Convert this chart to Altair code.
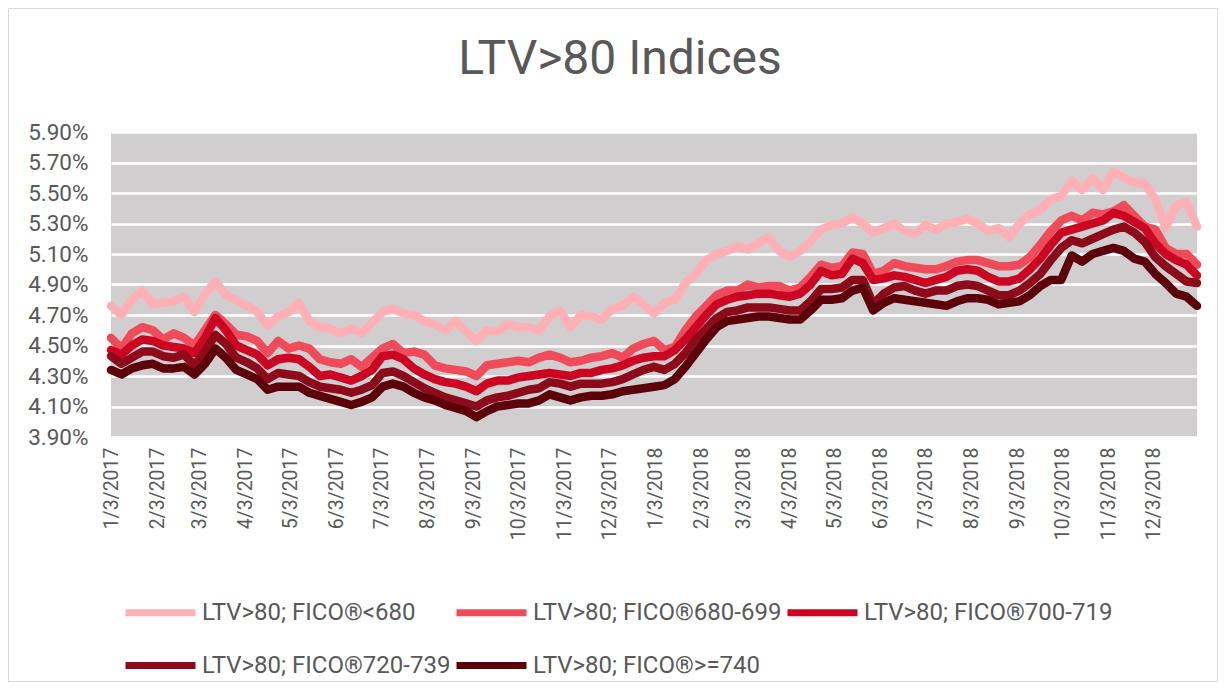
import altair as alt
import pandas as pd

# ---------------- data (weekly samples) ----------------
series_names = [
    "LTV>80; FICO®<680",
    "LTV>80; FICO®680-699",
    "LTV>80; FICO®700-719",
    "LTV>80; FICO®720-739",
    "LTV>80; FICO®>=740",
]
series_colors = ["#FFB0B7", "#F04B5A", "#CC0622", "#8C0A1A", "#5C000A"]

dates = pd.date_range("2017-01-03", periods=105, freq="7D").strftime("%Y-%m-%d").tolist()

fico_lt680 = [4.76, 4.70, 4.80, 4.86, 4.77, 4.78, 4.79, 4.82, 4.72, 4.84,
              4.92, 4.83, 4.80, 4.76, 4.72, 4.63, 4.69, 4.72, 4.78, 4.66,
              4.62, 4.61, 4.58, 4.61, 4.58, 4.65, 4.72, 4.74, 4.71, 4.70,
              4.66, 4.64, 4.60, 4.66, 4.59, 4.53, 4.60, 4.59, 4.64, 4.62,
              4.62, 4.60, 4.69, 4.73, 4.62, 4.70, 4.69, 4.67, 4.74, 4.76,
              4.82, 4.77, 4.71, 4.78, 4.80, 4.91, 4.97, 5.06, 5.10, 5.12,
              5.15, 5.13, 5.17, 5.21, 5.12, 5.08, 5.12, 5.18, 5.26, 5.29,
              5.30, 5.34, 5.30, 5.24, 5.27, 5.30, 5.25, 5.23, 5.29, 5.26,
              5.30, 5.31, 5.33, 5.30, 5.25, 5.27, 5.21, 5.30, 5.36, 5.39,
              5.46, 5.48, 5.58, 5.52, 5.60, 5.52, 5.64, 5.60, 5.57, 5.56,
              5.46, 5.27, 5.42, 5.44, 5.28]

fico_680_699 = [4.55, 4.48, 4.58, 4.62, 4.60, 4.54, 4.58, 4.55, 4.50, 4.60,
                4.70, 4.64, 4.57, 4.56, 4.53, 4.45, 4.53, 4.48, 4.50, 4.48,
                4.41, 4.39, 4.38, 4.41, 4.36, 4.42, 4.48, 4.51, 4.45, 4.46,
                4.44, 4.37, 4.35, 4.34, 4.33, 4.30, 4.37, 4.38, 4.39, 4.40,
                4.39, 4.42, 4.44, 4.42, 4.39, 4.40, 4.42, 4.43, 4.45, 4.42,
                4.48, 4.51, 4.53, 4.47, 4.49, 4.60, 4.69, 4.76, 4.83, 4.86,
                4.86, 4.90, 4.88, 4.89, 4.89, 4.86, 4.88, 4.95, 5.03, 5.01,
                5.02, 5.11, 5.10, 4.97, 4.99, 5.04, 5.02, 5.01, 5.00, 5.00,
                5.02, 5.05, 5.06, 5.06, 5.04, 5.02, 5.02, 5.03, 5.08, 5.16,
                5.25, 5.32, 5.35, 5.32, 5.37, 5.36, 5.38, 5.42, 5.35, 5.28,
                5.26, 5.14, 5.10, 5.10, 5.03]

fico_700_719 = [4.47, 4.44, 4.50, 4.54, 4.53, 4.50, 4.49, 4.48, 4.45, 4.55,
                4.68, 4.60, 4.50, 4.47, 4.44, 4.37, 4.41, 4.42, 4.41, 4.36,
                4.30, 4.31, 4.29, 4.27, 4.30, 4.34, 4.43, 4.44, 4.41, 4.35,
                4.31, 4.28, 4.26, 4.25, 4.23, 4.20, 4.25, 4.27, 4.27, 4.29,
                4.30, 4.31, 4.32, 4.31, 4.30, 4.32, 4.32, 4.34, 4.35, 4.37,
                4.40, 4.42, 4.43, 4.43, 4.47, 4.54, 4.62, 4.70, 4.77, 4.80,
                4.82, 4.83, 4.84, 4.84, 4.83, 4.82, 4.84, 4.90, 4.99, 4.96,
                4.97, 5.07, 5.04, 4.93, 4.94, 4.96, 4.95, 4.93, 4.91, 4.93,
                4.95, 4.99, 5.00, 4.99, 4.95, 4.92, 4.92, 4.94, 5.00, 5.07,
                5.16, 5.24, 5.26, 5.28, 5.30, 5.32, 5.37, 5.35, 5.31, 5.27,
                5.17, 5.10, 5.06, 5.03, 4.96]

fico_720_739 = [4.43, 4.38, 4.42, 4.46, 4.46, 4.43, 4.42, 4.44, 4.37, 4.46,
                4.57, 4.51, 4.42, 4.39, 4.35, 4.28, 4.32, 4.31, 4.30, 4.26,
                4.23, 4.22, 4.21, 4.19, 4.21, 4.24, 4.32, 4.33, 4.30, 4.26,
                4.22, 4.19, 4.16, 4.14, 4.12, 4.10, 4.14, 4.16, 4.17, 4.19,
                4.21, 4.22, 4.26, 4.25, 4.23, 4.25, 4.25, 4.25, 4.26, 4.28,
                4.31, 4.34, 4.36, 4.34, 4.38, 4.45, 4.54, 4.61, 4.68, 4.72,
                4.73, 4.75, 4.75, 4.75, 4.74, 4.73, 4.73, 4.79, 4.87, 4.87,
                4.88, 4.93, 4.93, 4.77, 4.84, 4.88, 4.89, 4.86, 4.84, 4.86,
                4.86, 4.89, 4.90, 4.89, 4.86, 4.83, 4.83, 4.86, 4.91, 4.97,
                5.06, 5.14, 5.19, 5.17, 5.20, 5.23, 5.26, 5.28, 5.24, 5.18,
                5.08, 5.02, 4.97, 4.92, 4.91]

fico_ge740 = [4.34, 4.31, 4.35, 4.37, 4.38, 4.35, 4.35, 4.36, 4.31, 4.38,
              4.48, 4.42, 4.34, 4.31, 4.28, 4.21, 4.23, 4.23, 4.23, 4.19,
              4.17, 4.15, 4.13, 4.11, 4.13, 4.16, 4.23, 4.25, 4.23, 4.19,
              4.16, 4.14, 4.11, 4.09, 4.07, 4.03, 4.07, 4.10, 4.11, 4.12,
              4.12, 4.14, 4.18, 4.16, 4.14, 4.16, 4.17, 4.17, 4.18, 4.20,
              4.21, 4.22, 4.23, 4.24, 4.28, 4.36, 4.45, 4.54, 4.62, 4.66,
              4.67, 4.68, 4.69, 4.69, 4.68, 4.67, 4.67, 4.73, 4.80, 4.80,
              4.81, 4.86, 4.88, 4.73, 4.78, 4.81, 4.80, 4.79, 4.78, 4.77,
              4.76, 4.79, 4.81, 4.81, 4.80, 4.77, 4.78, 4.79, 4.83, 4.89,
              4.93, 4.93, 5.09, 5.05, 5.10, 5.12, 5.14, 5.12, 5.07, 5.05,
              4.97, 4.91, 4.84, 4.82, 4.76]

y_ticks = [3.9, 4.1, 4.3, 4.5, 4.7, 4.9, 5.1, 5.3, 5.5, 5.7, 5.9]
x_tick_months = [(2017, m) for m in range(1, 13)] + [(2018, m) for m in range(1, 13)]

# ---------------- build table ----------------
all_values = [fico_lt680, fico_680_699, fico_700_719, fico_720_739, fico_ge740]
rows = []
for name, vals in zip(series_names, all_values):
    for d, v in zip(dates, vals):
        rows.append({"date": d, "value": v, "series": name})
df = pd.DataFrame(rows)

TEXT = "#595959"
FONT = "Roboto"
W, H = 1086, 305
PAD = {"left": 103, "top": 124, "right": 21, "bottom": 245}

x_enc = alt.X(
    "date:T",
    title=None,
    scale=alt.Scale(
        type="utc",
        domain=[alt.DateTime(year=2017, month=1, date=3, utc=True),
                alt.DateTime(year=2019, month=1, date=1, utc=True)],
    ),
    axis=alt.Axis(
        values=[alt.DateTime(year=y, month=m, date=3, utc=True) for y, m in x_tick_months],
        labelExpr="utcFormat(datum.value, '%-m/%-d/%Y')",
        labelAngle=-90,
        labelPadding=10,
        labelFontSize=19.5,
        ticks=False,
        domain=False,
        grid=False,
        labelOverlap=False,
    ),
)
y_enc = alt.Y(
    "value:Q",
    title=None,
    scale=alt.Scale(domain=[3.9, 5.9], nice=False, zero=False),
    axis=alt.Axis(
        values=y_ticks,
        labelExpr="format(datum.value, '.2f') + '%'",
        labelPadding=23,
        labelFontSize=22.5,
        ticks=False,
        domain=False,
        grid=True,
        gridColor="#FFFFFF",
        gridWidth=2.5,
    ),
)
color_enc = alt.Color(
    "series:N",
    scale=alt.Scale(domain=series_names, range=series_colors),
    legend=alt.Legend(
        title=None,
        orient="none",
        legendX=11,
        legendY=442,
        direction="horizontal",
        columns=3,
        gridAlign="each",
        columnPadding=-9,
        rowPadding=0,
        symbolType="stroke",
        symbolSize=4900,
        symbolStrokeWidth=7,
        labelOffset=3,
        labelFont=FONT,
        labelFontSize=24,
        labelColor=TEXT,
        labelLimit=0,
    ),
)

layers = []
for name in series_names:
    layers.append(
        alt.Chart(df)
        .transform_filter(alt.datum.series == name)
        .mark_line(strokeWidth=8.5, strokeCap="round", strokeJoin="round")
        .encode(x=x_enc, y=y_enc, color=color_enc)
    )

frame = alt.Chart(pd.DataFrame({"k": [0]})).mark_rect(
    fill="transparent", stroke="#D9D9D9", strokeWidth=1
).encode(
    x=alt.value(-PAD["left"] + 0.5),
    x2=alt.value(W + PAD["right"] - 0.5),
    y=alt.value(-PAD["top"] + 0.5),
    y2=alt.value(H + PAD["bottom"] - 0.5),
)

chart = (
    alt.layer(*layers, frame)
    .properties(
        width=W,
        height=H,
        autosize=alt.AutoSizeParams(type="none"),
        padding=PAD,
        background="#FFFFFF",
        title=alt.TitleParams(
            "LTV>80 Indices",
            font=FONT,
            fontSize=48,
            fontWeight="normal",
            color=TEXT,
            anchor="middle",
            frame="group",
            offset=-114,
            dx=-34,
            baseline="alphabetic",
        ),
    )
    .configure_axis(labelFont=FONT, labelColor=TEXT)
    .configure_view(fill="#D0CECE", strokeWidth=0)
)

chart.save("out.html", embed_options={"renderer": "svg", "actions": False})
